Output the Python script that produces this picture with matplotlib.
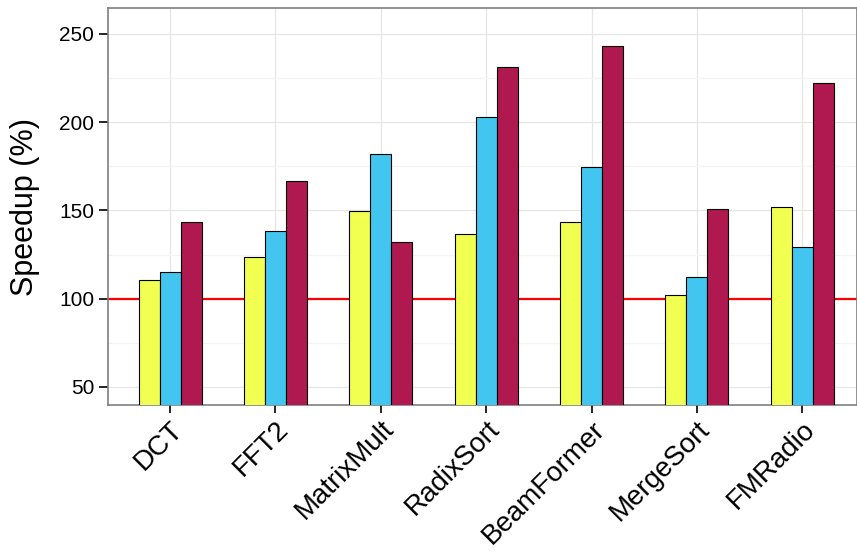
#!/usr/bin/env python3
"""Speedup per benchmark, grouped bars."""

import matplotlib

matplotlib.use("Agg")
import matplotlib.pyplot as plt
import matplotlib.transforms as mtransforms
import numpy as np
from matplotlib.ticker import MultipleLocator

BENCHMARKS = ["DCT", "FFT2", "MatrixMult", "RadixSort", "BeamFormer", "MergeSort", "FMRadio"]
SERIES_A = [110.6, 123.8, 149.9, 136.9, 143.3, 102.3, 152.0]
SERIES_B = [115.0, 138.4, 181.8, 203.1, 174.6, 112.3, 129.5]
SERIES_C = [143.7, 166.7, 132.0, 231.3, 243.0, 150.7, 222.0]
COLORS = ["#F0FF50", "#42C6F0", "#B01850"]
BASELINE = 100

plt.rcParams["font.family"] = ["Liberation Sans", "DejaVu Sans"]

fig = plt.figure(figsize=(8.57, 5.54), dpi=100)
ax = fig.add_axes([108 / 857, 1 - 405 / 554, 1 - 108 / 857, (405 - 8) / 554])

x = np.arange(1, len(BENCHMARKS) + 1)
width = 0.2
for i, (vals, col) in enumerate(zip([SERIES_A, SERIES_B, SERIES_C], COLORS)):
    ax.bar(x + (i - 1) * width, vals, width, color=col, edgecolor="black",
           linewidth=0.8, zorder=3)

ax.axhline(BASELINE, color="red", linewidth=1.6, zorder=2)

ax.set_xlim(0.41, 7.52)
ax.set_ylim(39.8, 264.7)
ax.yaxis.set_major_locator(MultipleLocator(50))
ax.yaxis.set_minor_locator(MultipleLocator(25))
ax.set_xticks(x)
ax.set_xticklabels(BENCHMARKS, rotation=45, ha="right", va="top",
                   rotation_mode="anchor", fontsize=20)
shift = mtransforms.ScaledTranslation(11 / 100, 0, fig.dpi_scale_trans)
for lab in ax.get_xticklabels():
    lab.set_transform(lab.get_transform() + shift)
ax.tick_params(axis="y", labelsize=15, length=6.5, width=1.2, color="black", pad=3.5)
ax.tick_params(axis="x", length=6, width=1.2, color="black", pad=2)
ax.tick_params(axis="y", which="minor", length=0)
ax.grid(True, which="major", color="#E6E6E6", linewidth=0.9, zorder=0)
ax.grid(True, which="minor", axis="y", color="#F4F4F4", linewidth=0.9, zorder=0)
ax.set_axisbelow(True)
for spine in ax.spines.values():
    spine.set_color("#7F7F7F")
    spine.set_linewidth(1.2)
ax.set_ylabel("Speedup (%)", fontsize=22, labelpad=14)

fig.savefig("out.png", dpi=100)
